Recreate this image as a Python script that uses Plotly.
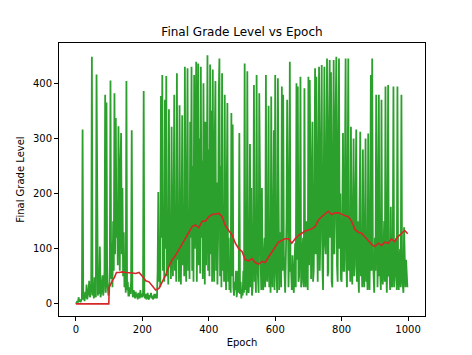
import plotly.graph_objects as go

grade_epochs = list(range(0, 1000, 2))
grade_values = [
    0, 3, 5, 2, 12, 4, 8, 3, 6, 10, 316, 8, 12, 5, 22, 10, 35, 8, 15, 25,
    42, 12, 18, 30, 448, 15, 25, 10, 48, 20, 12, 416, 28, 15, 30, 18, 104, 12, 20, 35,
    52, 15, 25, 60, 379, 20, 365, 40, 28, 15, 20, 70, 405, 45, 110, 30, 150, 60, 382, 90,
    337, 120, 180, 70, 322, 140, 60, 250, 310, 90, 210, 50, 130, 30, 60, 20, 404, 25, 40, 15,
    15, 30, 18, 40, 315, 20, 12, 25, 15, 10, 22, 12, 18, 8, 20, 14, 10, 25, 12, 18,
    12, 20, 386, 15, 10, 18, 8, 14, 20, 10, 8, 16, 12, 20, 10, 15, 8, 12, 18, 10,
    18, 12, 10, 60, 203, 40, 90, 30, 377, 120, 415, 60, 150, 40, 370, 100, 413, 50, 130, 35,
    353, 70, 140, 45, 321, 110, 50, 160, 379, 60, 120, 40, 418, 80, 150, 40, 360, 90, 35, 140,
    342, 70, 180, 50, 430, 110, 40, 200, 427, 60, 150, 45, 330, 120, 430, 60, 250, 40, 415, 100,
    180, 439, 40, 210, 436, 70, 300, 55, 430, 120, 260, 45, 400, 150, 35, 330, 70, 200, 451, 60,
    280, 50, 434, 90, 350, 40, 425, 120, 40, 300, 404, 60, 220, 35, 120, 380, 445, 50, 250, 30,
    418, 60, 180, 40, 379, 90, 25, 200, 364, 40, 120, 25, 60, 20, 346, 50, 325, 30, 15, 40,
    25, 60, 12, 30, 60, 20, 310, 18, 40, 10, 22, 15, 60, 20, 436, 25, 90, 15, 422, 30,
    20, 50, 290, 30, 210, 15, 30, 120, 397, 40, 60, 20, 415, 80, 45, 20, 382, 100, 80, 25,
    210, 40, 25, 90, 120, 30, 415, 60, 40, 100, 359, 30, 90, 20, 376, 60, 30, 140, 315, 25,
    415, 80, 60, 20, 409, 50, 25, 130, 100, 30, 394, 60, 379, 90, 40, 20, 85, 150, 370, 40,
    30, 90, 439, 60, 60, 25, 88, 40, 20, 70, 110, 30, 400, 80, 394, 40, 50, 120, 412, 30,
    40, 100, 120, 30, 391, 60, 30, 150, 80, 25, 412, 70, 406, 120, 45, 200, 330, 40, 60, 180,
    427, 90, 412, 150, 40, 250, 430, 60, 120, 300, 433, 70, 25, 200, 430, 110, 90, 260, 445, 50,
    60, 330, 442, 120, 420, 40, 30, 280, 442, 90, 150, 350, 448, 70, 40, 300, 445, 100, 200, 45,
    40, 150, 310, 60, 60, 250, 445, 80, 30, 200, 445, 60, 110, 40, 321, 90, 35, 150, 300, 50,
    70, 200, 316, 40, 150, 60, 20, 180, 312, 50, 90, 30, 280, 60, 30, 120, 300, 40, 60, 25,
    309, 50, 25, 120, 415, 60, 445, 90, 40, 20, 120, 60, 379, 40, 30, 100, 379, 50, 60, 25,
    370, 60, 35, 90, 150, 40, 394, 70, 20, 100, 397, 50, 60, 25, 176, 40, 30, 90, 394, 30,
    50, 100, 120, 25, 394, 60, 25, 80, 100, 30, 379, 50, 40, 20, 139, 60, 30, 80, 60, 30,
]

# Red series: moving average of the grade level
avg_epochs = [0, 99, 100, 104, 110, 116, 122, 130, 140, 150, 160, 170, 180, 190, 200,
              210, 220, 230, 240, 250, 260, 270, 280, 290, 300, 310, 320, 330, 340,
              350, 360, 370, 380, 390, 400, 410, 420, 430, 440, 450, 460, 470, 480,
              490, 500, 510, 520, 530, 540, 550, 560, 570, 580, 590, 600, 610, 620,
              630, 640, 650, 660, 670, 680, 690, 700, 710, 720, 730, 740, 750, 760,
              770, 780, 790, 800, 810, 820, 830, 840, 850, 860, 870, 880, 890, 900,
              910, 920, 930, 940, 950, 960, 970, 980, 990, 999]
avg_values = [0, 0, 30, 36, 42, 48, 57, 57, 58, 57, 57, 56, 55, 57, 50,
              42, 40, 33, 25, 28, 40, 52, 68, 80, 88, 98, 108, 118, 128,
              140, 143, 138, 150, 150, 158, 162, 163, 164, 158, 142, 133, 125, 110,
              100, 95, 80, 78, 82, 75, 72, 77, 75, 85, 95, 103, 112, 115,
              118, 118, 110, 118, 124, 128, 132, 134, 136, 140, 152, 158, 163, 168,
              162, 165, 165, 162, 160, 158, 150, 135, 130, 128, 122, 115, 108, 104,
              110, 106, 112, 110, 118, 113, 122, 128, 133, 127]

x_ticks = [0, 200, 400, 600, 800, 1000]
y_ticks = [0, 100, 200, 300, 400]

fig = go.Figure()
fig.add_trace(go.Scatter(x=grade_epochs, y=grade_values, mode="lines",
                         line=dict(color="#2ca02c", width=1.8), showlegend=False))
fig.add_trace(go.Scatter(x=avg_epochs, y=avg_values, mode="lines",
                         line=dict(color="#d62728", width=1.6), showlegend=False))

font_family = "DejaVu Sans"
axis_common = dict(showline=True, mirror=True, linecolor="black", linewidth=1,
                   ticks="outside", ticklen=4, tickwidth=1, tickcolor="black",
                   showgrid=False, zeroline=False, automargin=False,
                   tickfont=dict(family=font_family, size=10, color="black"))

# the page body adds an 8px offset, so the figure is drawn 8px smaller
fig.update_layout(
    width=464, height=347,
    margin=dict(l=51, r=47, t=35, b=39),
    paper_bgcolor="white", plot_bgcolor="white",
    title=dict(text="Final Grade Level vs Epoch", x=0.5, xref="paper",
               y=1 - 24 / 347, yref="container", yanchor="middle", xanchor="center",
               font=dict(family=font_family, size=12, color="black")),
    xaxis=dict(range=[-51, 1051], tickvals=x_ticks, ticktext=[str(v) for v in x_ticks],
               title=dict(text="Epoch", standoff=4,
                          font=dict(family=font_family, size=10, color="black")),
               **axis_common),
    yaxis=dict(range=[-22, 473], tickvals=y_ticks, ticktext=[str(v) for v in y_ticks],
               title=dict(text="Final Grade Level", standoff=6,
                          font=dict(family=font_family, size=10, color="black")),
               **axis_common),
)

fig.write_html("out.html")
